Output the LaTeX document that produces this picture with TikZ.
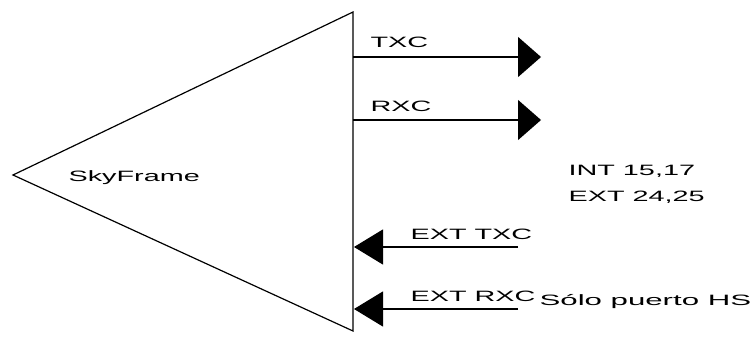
\documentclass[tikz,border=0pt]{standalone}
\usepackage{fontspec}
\newfontfamily\sigfont[FakeStretch=1.92]{Liberation Sans}
\newfontfamily\notefont[FakeStretch=2.08]{Liberation Sans}
\usetikzlibrary{arrows.meta}

\begin{document}
\begin{tikzpicture}[x=1pt, y=1pt, line width=1.2pt,
    lbl/.style={font=\fontsize{15}{18}\sigfont, inner sep=0pt, anchor=base west},
    sigout/.style={-{Triangle[length=23pt, width=40pt]}},
    sigin/.style={-{Triangle[length=29pt, width=35pt]}}]
  \useasboundingbox (0,0) rectangle (753,-337);

  % --- the SkyFrame block: a triangle pointing left ---
  \coordinate (apex) at (13,-175);
  \coordinate (top) at (353,-12);
  \coordinate (bot) at (353,-331);
  \draw (apex) -- (top) -- (bot) -- cycle;
  \node[lbl] (sky) at (68,-181.5) {SkyFrame};

  % --- clocks leaving the block ---
  \foreach \y/\k/\n in {57/txc/TXC, 120/rxc/RXC}{
    \coordinate (\k-a) at (353,-\y);
    \coordinate (\k-b) at (541,-\y);
    \draw[sigout] (\k-a) -- (\k-b);
    \node[lbl] (\k-lbl) at (370,-\y+9) {\n};
  }

  % --- external clocks coming in ---
  \foreach \y/\k/\n in {247/etxc/EXT TXC, 309/erxc/EXT RXC}{
    \coordinate (\k-a) at (518,-\y);
    \coordinate (\k-b) at (354,-\y);
    \draw[sigin] (\k-a) -- (\k-b);
    \node[lbl] (\k-lbl) at (410,-\y+8) {\n};
  }

  % pin numbers and note
  \node[lbl] (int) at (568,-175.5) {INT 15,17};
  \node[lbl] (ext) at (568,-201.5) {EXT 24,25};
  \node[lbl, font=\fontsize{15}{18}\notefont] (hs) at (539,-305) {Sólo puerto HS};
\end{tikzpicture}
\end{document}
